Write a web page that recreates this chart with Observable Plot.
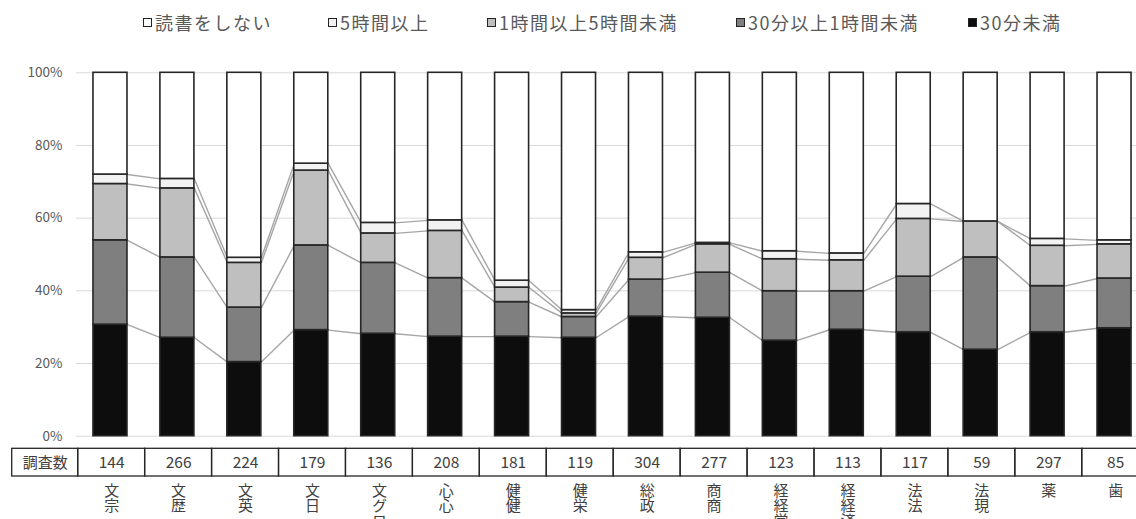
<!DOCTYPE html>
<html><head><meta charset="utf-8">
<script src="https://cdn.jsdelivr.net/npm/d3@7"></script>
<script src="https://cdn.jsdelivr.net/npm/@observablehq/plot@0.6"></script>
<style>
html,body{margin:0;padding:0;background:#fff;overflow:hidden;}
#wrap{position:relative;width:1136px;height:519px;overflow:hidden;font-family:"Noto Sans CJK JP","Noto Sans",sans-serif;}
#legend{position:relative;height:40px;}
.item{position:absolute;top:2px;height:40px;display:flex;align-items:center;font-size:18px;color:#595959;letter-spacing:1.5px;white-space:nowrap;}
.sw{width:9px;height:9px;border:1.5px solid #222;margin-right:3px;box-sizing:border-box;}
#chart svg{display:block;}
</style></head>
<body>
<div id="wrap"><div id="legend"></div><div id="chart"></div></div>
<script>
// ---- data ----
const categories = ["文宗","文歴","文英","文日","文グロ","心心","健健","健栄","総政","商商","経経営","経経済","法法","法現","薬","歯"];
const counts = [144,266,224,179,136,208,181,119,304,277,123,113,117,59,297,85];
const seriesNames = ["30分未満","30分以上1時間未満","1時間以上5時間未満","5時間以上","読書をしない"];
const under30min   = [30.7,27.1,20.4,29.2,28.2,27.4,27.4,27.1,32.9,32.6,26.3,29.3,28.6,23.8,28.6,29.7];
const min30to1h    = [23.2,22.1,15.0,23.3,19.5,16.1,9.5,5.7,10.2,12.4,13.6,10.6,15.3,25.4,12.7,13.7];
const h1to5        = [15.5,19.0,12.3,20.6,8.1,13.0,4.0,1.0,6.0,7.8,8.8,8.5,15.9,9.9,11.1,9.4];
const over5h       = [2.6,2.6,1.4,1.9,2.9,2.9,1.9,0.9,1.5,0.4,2.2,1.9,4.1,0.0,1.9,1.1];
const noReading    = [28.0,29.2,50.9,25.0,41.3,40.6,57.2,65.3,49.4,46.8,49.1,49.7,36.1,40.9,45.7,46.1];
const seriesColors = ["#0d0d0d","#7f7f7f","#bfbfbf","#f2f2f2","#ffffff"];
const legendOrder  = ["読書をしない","5時間以上","1時間以上5時間未満","30分以上1時間未満","30分未満"];
const legendLeft   = [143,328,487,736,968];
const yTicks = [0,20,40,60,80,100];
const tableHeader = "調査数";

// ---- legend (HTML) ----
const legend = document.getElementById("legend");
legendOrder.forEach((name, k) => {
  const idx = seriesNames.indexOf(name);
  const it = document.createElement("div");
  it.className = "item";
  it.style.left = legendLeft[k] + "px";
  const sw = document.createElement("span");
  sw.className = "sw";
  sw.style.background = seriesColors[idx];
  it.appendChild(sw);
  it.appendChild(document.createTextNode(name));
  legend.appendChild(it);
});

// ---- build stacked table ----
const seriesValues = [under30min, min30to1h, h1to5, over5h, noReading];
const rows = [];
const tops = seriesNames.map(() => []);
categories.forEach((c, i) => {
  let cum = 0;
  seriesValues.forEach((vals, s) => {
    const v = vals[i];
    if (v > 0) rows.push({i, cat: c, series: seriesNames[s], y1: cum, y2: cum + v, color: seriesColors[s]});
    cum += v;
    tops[s].push(cum);
  });
});
const hw = 0.254; // half bar width in category steps
const links = [];
for (let s = 0; s < 4; s++) {
  for (let i = 0; i < categories.length - 1; i++) {
    links.push({x1: i + hw, x2: i + 1 - hw, y1: tops[s][i], y2: tops[s][i + 1]});
  }
}

const H = 479;
const yRange = [395.7, 32.3];
const yPx = d3.scaleLinear([0, 100], yRange);
const tableTop = yPx.invert(408.3);
const tableBottom = yPx.invert(436.0);
const tableMid = yPx.invert(422.3);
const labelTop = yPx.invert(442.0);
const cells = categories.map((c, i) => ({i, cat: c, n: counts[i]}));

const chart = Plot.plot({
  width: 1136,
  height: H,
  marginLeft: 76, marginRight: 0, marginTop: 32, marginBottom: 83,
  style: {fontFamily: '"Noto Sans CJK JP","Noto Sans",sans-serif', background: "#fff", overflow: "hidden"},
  x: {type: "linear", domain: [-0.5, 15.5], range: [76.5, 1147.5], axis: null},
  y: {domain: [0, 100], range: yRange, axis: null},
  marks: [
    Plot.ruleY(yTicks, {stroke: "#d9d9d9", strokeWidth: 1}),
    Plot.axisY(yTicks, {tickFormat: d => d + "%", tickSize: 0, tickPadding: 14, fontSize: 13.5, fill: "#595959", label: null}),
    Plot.link(links, {x1: "x1", x2: "x2", y1: "y1", y2: "y2", stroke: "#a6a6a6", strokeWidth: 1.4}),
    Plot.rect(rows, {x1: d => d.i - hw, x2: d => d.i + hw, y1: "y1", y2: "y2", fill: "color", stroke: "#262626", strokeWidth: 1.6}),
    // table
    Plot.rect([tableHeader], {x1: -1.486, x2: -0.5, y1: tableTop, y2: tableBottom, dx: 1.2, fill: "none", stroke: "#262626", strokeWidth: 1.3}),
    Plot.text([tableHeader], {x: -0.993, y: tableMid, text: d => d, dx: 1.2, fontSize: 15, fill: "#404040"}),
    Plot.rect(cells, {x1: d => d.i - 0.5, x2: d => d.i + 0.5, y1: tableTop, y2: tableBottom, dx: 1.2, fill: "none", stroke: "#262626", strokeWidth: 1.3}),
    Plot.text(cells, {x: "i", y: tableMid, text: d => String(d.n), dx: 1.2, fontSize: 15.5, fill: "#404040"}),
    Plot.text(cells, {x: "i", y: labelTop, text: "cat", textAnchor: "start", lineAnchor: "bottom", dx: 1.2, fontSize: 15, fill: "#404040"})
  ]
});
// vertical (縦書き) category labels
d3.select(chart).selectAll("text")
  .filter(function() { return categories.includes(this.textContent); })
  .attr("writing-mode", "vertical-rl")
  .style("writing-mode", "vertical-rl")
  .attr("dy", null);
document.getElementById("chart").appendChild(chart);
</script>
</body></html>
